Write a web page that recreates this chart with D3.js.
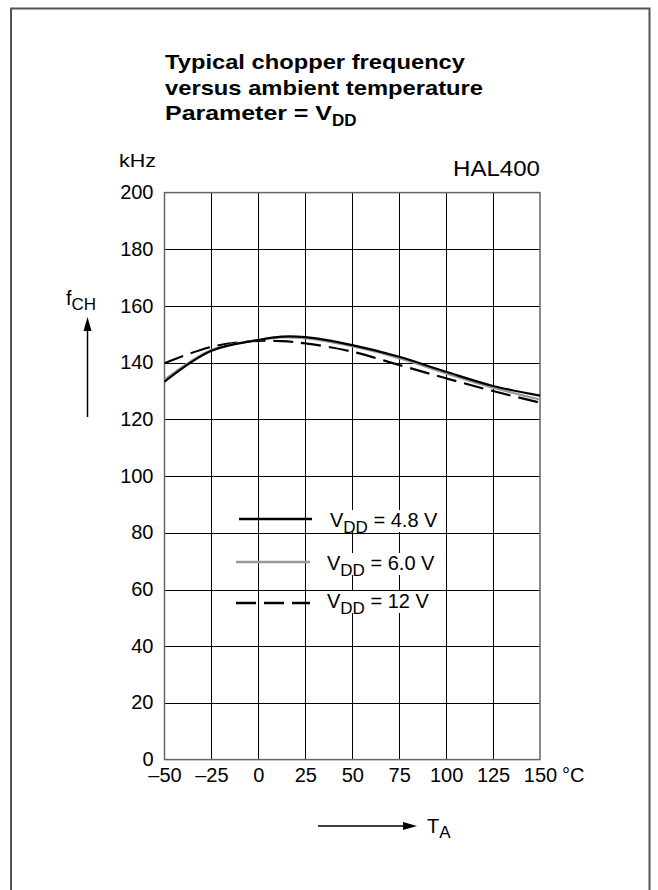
<!DOCTYPE html>
<html><head><meta charset="utf-8">
<script src="https://cdn.jsdelivr.net/npm/d3@7"></script>
<style>body{margin:0;background:#fff}svg text{font-family:"Liberation Sans",Arial,sans-serif;fill:#000}</style>
</head><body>
<svg id="c" width="658" height="890"></svg>
<script>
const temps = [-50, -25, 0, 12.5, 25, 50, 75, 100, 125, 150];
const v48 = [133.3, 144.2, 148.0, 149.2, 149.0, 146.2, 142.1, 136.8, 131.8, 128.4];
const v60 = [134.0, 144.5, 148.0, 148.9, 148.7, 145.8, 141.6, 136.2, 131.2, 127.0];
const v12 = [139.8, 145.6, 147.7, 147.6, 146.8, 143.9, 139.2, 134.5, 130.0, 125.9];
const xTicks = [-50, -25, 0, 25, 50, 75, 100, 125, 150];
const yTicks = [0, 20, 40, 60, 80, 100, 120, 140, 160, 180, 200];
const seriesNames = ["4.8 V", "6.0 V", "12 V"];

const svg = d3.select("#c");
const L = 164.5, R = 540, T = 192.6, B = 759.6;
const x = d3.scaleLinear().domain([-50, 150]).range([L, R]);
const y = d3.scaleLinear().domain([0, 200]).range([B, T]);
const FF = '"Liberation Sans",Arial,sans-serif';

// outer frame
svg.append("path").attr("d", `M11,900 V8.5 H649.5 V900`).attr("fill", "none").attr("stroke", "#555").attr("stroke-width", 2);

// title
const title = svg.append("g").attr("font-weight", "bold").attr("font-size", 21);
title.append("text").attr("x", 165).attr("y", 69).attr("textLength", 300).attr("lengthAdjust", "spacingAndGlyphs").text("Typical chopper frequency");
title.append("text").attr("x", 165).attr("y", 95).attr("textLength", 318).attr("lengthAdjust", "spacingAndGlyphs").text("versus ambient temperature");
const t3 = title.append("text").attr("x", 165).attr("y", 120);
t3.append("tspan").attr("textLength", 167).attr("lengthAdjust", "spacingAndGlyphs").text("Parameter = V");
t3.append("tspan").attr("dy", 6).attr("font-size", 17).text("DD");

svg.append("text").attr("x", 156).attr("y", 167).attr("font-size", 18).attr("text-anchor", "end")
  .attr("textLength", 37).attr("lengthAdjust", "spacingAndGlyphs").text("kHz");
svg.append("text").attr("x", 540).attr("y", 176).attr("font-size", 22).attr("text-anchor", "end")
  .attr("textLength", 87).attr("lengthAdjust", "spacingAndGlyphs").text("HAL400");

// grid
const grid = svg.append("g").attr("stroke", "#000").attr("stroke-width", 1);
grid.selectAll(".gx").data(xTicks.slice(1, -1)).join("line")
  .attr("x1", d => Math.round(x(d)) + 0.5).attr("x2", d => Math.round(x(d)) + 0.5)
  .attr("y1", T).attr("y2", B);
grid.selectAll(".gy").data(yTicks.slice(1, -1)).join("line")
  .attr("y1", d => Math.round(y(d)) + 0.5).attr("y2", d => Math.round(y(d)) + 0.5)
  .attr("x1", L).attr("x2", R);

// axes labels via d3 axes
const yAxis = svg.append("g").attr("transform", `translate(${L},0)`)
  .call(d3.axisLeft(y).tickValues(yTicks).tickSize(0).tickPadding(11).tickFormat(d3.format("d")));
yAxis.select(".domain").remove();
yAxis.selectAll("text").attr("font-size", 20).attr("font-family", FF).attr("dy", "0.3em");
const xAxis = svg.append("g").attr("transform", `translate(0,${B})`)
  .call(d3.axisBottom(x).tickValues(xTicks).tickSize(0).tickPadding(7).tickFormat(d => d < 0 ? "\u2013" + Math.abs(d) : d));
xAxis.select(".domain").remove();
xAxis.selectAll("text").attr("font-size", 20).attr("font-family", FF).attr("dy", "0.78em");
svg.append("text").attr("x", 562).attr("y", 782).attr("font-size", 20).text("\u00B0C");

// legend
const legend = [
  {data: v48, color: "#000", dash: null, y1: 519, x1: 239, x2: 312, tx: 330, ty: 527},
  {data: v60, color: "#999", dash: null, y1: 562, x1: 236, x2: 310, tx: 327, ty: 570},
  {data: v12, color: "#000", dash: "20,8", y1: 603, x1: 236, x2: 310, tx: 327, ty: 608}
];
legend.forEach((l, i) => {
  const bg = svg.append("rect").attr("fill", "#fff");
  svg.append("line").attr("x1", l.x1).attr("x2", l.x2).attr("y1", l.y1).attr("y2", l.y1)
    .attr("stroke", l.color).attr("stroke-width", 2.5).attr("stroke-dasharray", l.dash);
  const t = svg.append("text").attr("x", l.tx).attr("y", l.ty).attr("font-size", 20);
  t.append("tspan").text("V");
  t.append("tspan").attr("dy", 6).attr("font-size", 17).text("DD");
  t.append("tspan").attr("dy", -6).text(" = " + seriesNames[i]);
  const bb = t.node().getBBox();
  bg.attr("x", bb.x - 3).attr("y", l.ty - 17).attr("width", bb.width + 6).attr("height", 22);
});

// plot border
svg.append("rect").attr("x", L).attr("y", T).attr("width", R - L).attr("height", B - T)
  .attr("fill", "none").attr("stroke", "#666").attr("stroke-width", 1.5);

// curves
const line = d3.line().x((d, i) => x(temps[i])).y(d => y(d)).curve(d3.curveCatmullRom.alpha(0.5));
[legend[2], legend[1], legend[0]].forEach(l => {
  svg.append("path").attr("d", line(l.data)).attr("fill", "none")
    .attr("stroke", l.color).attr("stroke-width", 2.2).attr("stroke-dasharray", l.dash);
});

// y label arrow
const yl = svg.append("text").attr("x", 66).attr("y", 305).attr("font-size", 20);
yl.append("tspan").text("f");
yl.append("tspan").attr("dy", 5).attr("font-size", 17).text("CH");
svg.append("line").attr("x1", 87.5).attr("x2", 87.5).attr("y1", 417).attr("y2", 328).attr("stroke", "#000").attr("stroke-width", 1.5);
svg.append("path").attr("d", "M87.5,317 L83.5,331 L91.5,331 Z").attr("fill", "#000");

// x label arrow
svg.append("line").attr("x1", 318).attr("x2", 405).attr("y1", 826).attr("y2", 826).attr("stroke", "#000").attr("stroke-width", 1.5);
svg.append("path").attr("d", "M417,826 L403,822 L403,830 Z").attr("fill", "#000");
const xl = svg.append("text").attr("x", 427).attr("y", 833).attr("font-size", 20);
xl.append("tspan").text("T");
xl.append("tspan").attr("dy", 5).attr("font-size", 17).text("A");
</script>
</body></html>
